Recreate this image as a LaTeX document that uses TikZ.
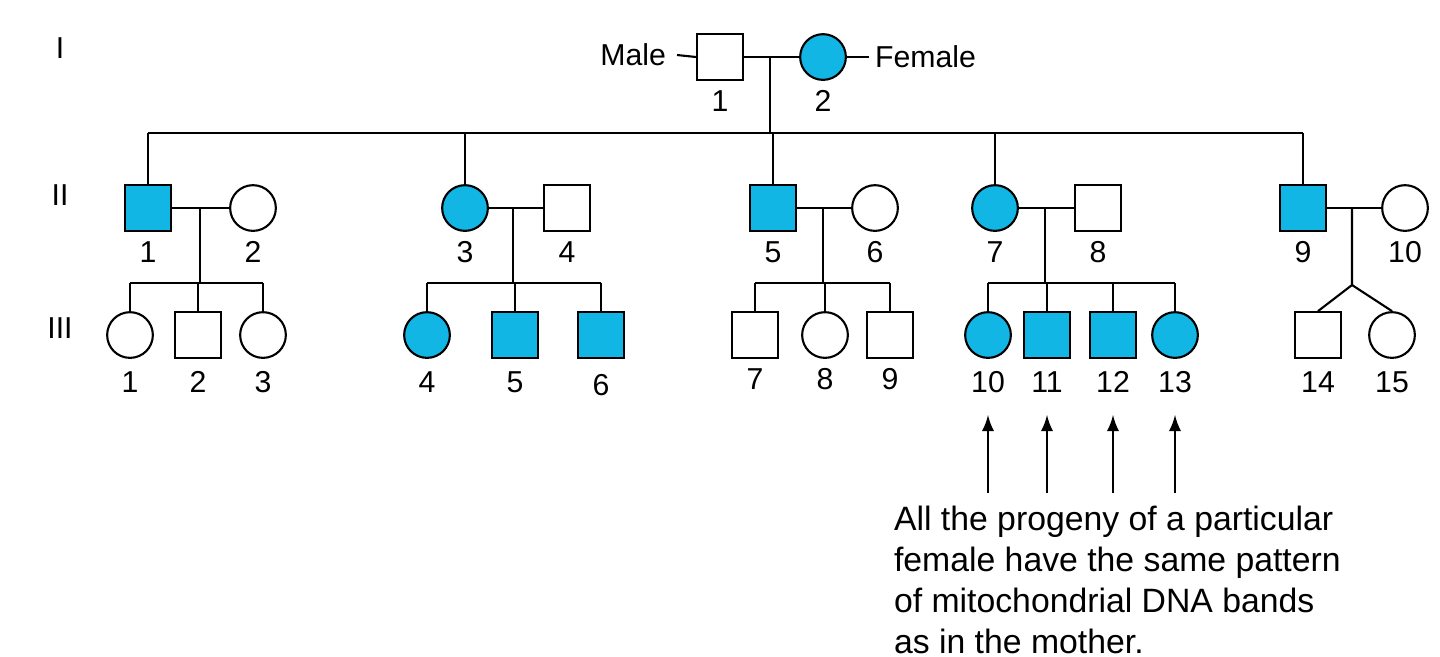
\documentclass[tikz,border=0pt]{standalone}
\usepackage{fontspec}
\setmainfont{Liberation Sans}
\definecolor{aff}{RGB}{18,182,228}
\begin{document}
\begin{tikzpicture}[x=0.01cm,y=-0.01cm,line width=0.6pt,
  m/.style={draw,minimum size=13pt,inner sep=0pt,fill=white},
  f/.style={draw,circle,minimum size=13pt,inner sep=0pt,fill=white},
  a/.style={fill=aff},
  lbl/.style={font=\fontsize{8.6pt}{10pt}\selectfont,inner sep=0pt}]
\useasboundingbox (0,0) rectangle (1440,656);
% Gen I
\node[lbl] at (60,48) {I};
\node[lbl] at (60,195) {II};
\node[lbl] at (60,328) {III};
\node[m] (i1) at (720,57) {};
\node[f,a] (i2) at (823,57) {};
\node[lbl,anchor=east] (ml) at (667,55) {Male};
\node[lbl,anchor=west] (fl) at (874,57) {Female};
\draw (ml.east)++(10,0) -- (i1.west);
\draw (i2.east) -- ++(22,0);
\draw (i1.east) -- (i2.west);
\coordinate (c0) at (770,57);
\coordinate (s0) at (770,133);
\draw (c0) -- (s0);
\draw (148,133) -- (1303,133);
\node[lbl] at (720,101) {1};
\node[lbl] at (823,101) {2};
% Gen II
\foreach \n/\x/\t/\af in {1/148/m/a,2/253/f/,3/465/f/a,4/567/m/,5/773/m/a,6/875/f/,7/995/f/a,8/1098/m/,9/1303/m/a,10/1405/f/}{
  \node[\t,\af] (ii\n) at (\x,208) {};
  \node[lbl] at (\x,252) {\n};
}
\foreach \n in {1,3,5,7,9}{\draw (ii\n.north) -- (ii\n.north |- s0);}
\foreach \a/\b/\x in {1/2/200,3/4/513,5/6/823,7/8/1045,9/10/1352}{
  \draw (ii\a.east) -- (ii\b.west);
}
% Gen III
\foreach \n/\x/\t/\af/\ly in {1/130/f//382,2/198/m//382,3/263/f//382,4/427/f/a/382,5/515/m/a/382,6/601/m/a/385,7/755/m//379,8/825/f//379,9/890/m//379,10/988/f/a/382,11/1047/m/a/382,12/1113/m/a/382,13/1175/f/a/382,14/1318/m//382,15/1392/f//382}{
  \node[\t,\af] (iii\n) at (\x,335) {};
  \node[lbl] (l\n) at (\x,\ly) {\n};
}
\foreach \x/\p/\l/\r in {200/1/1/3,513/3/4/6,823/5/7/9,1045/7/10/13}{
  \draw (\x,208) -- (\x,283);
  \draw (iii\l.north |- 0,283) -- (iii\r.north |- 0,283);
  \foreach \k in {\l,...,\r}{\draw (iii\k.north) -- (iii\k.north |- 0,283);}
}
\draw (1352,208) -- (1352,285) -- (iii14.north);
\draw (1352,285) -- (iii15.north);
% arrows
\foreach \n in {10,11,12,13}{\draw[-latex] (iii\n.center |- 0,493) -- (iii\n.center |- 0,415);}
\node[lbl,anchor=north west,align=left,font=\fontsize{9.6pt}{11.7pt}\selectfont] at (893,505)
{All the progeny of a particular\\female have the same pattern\\of mitochondrial DNA bands\\as in the mother.};
\end{tikzpicture}
\end{document}
